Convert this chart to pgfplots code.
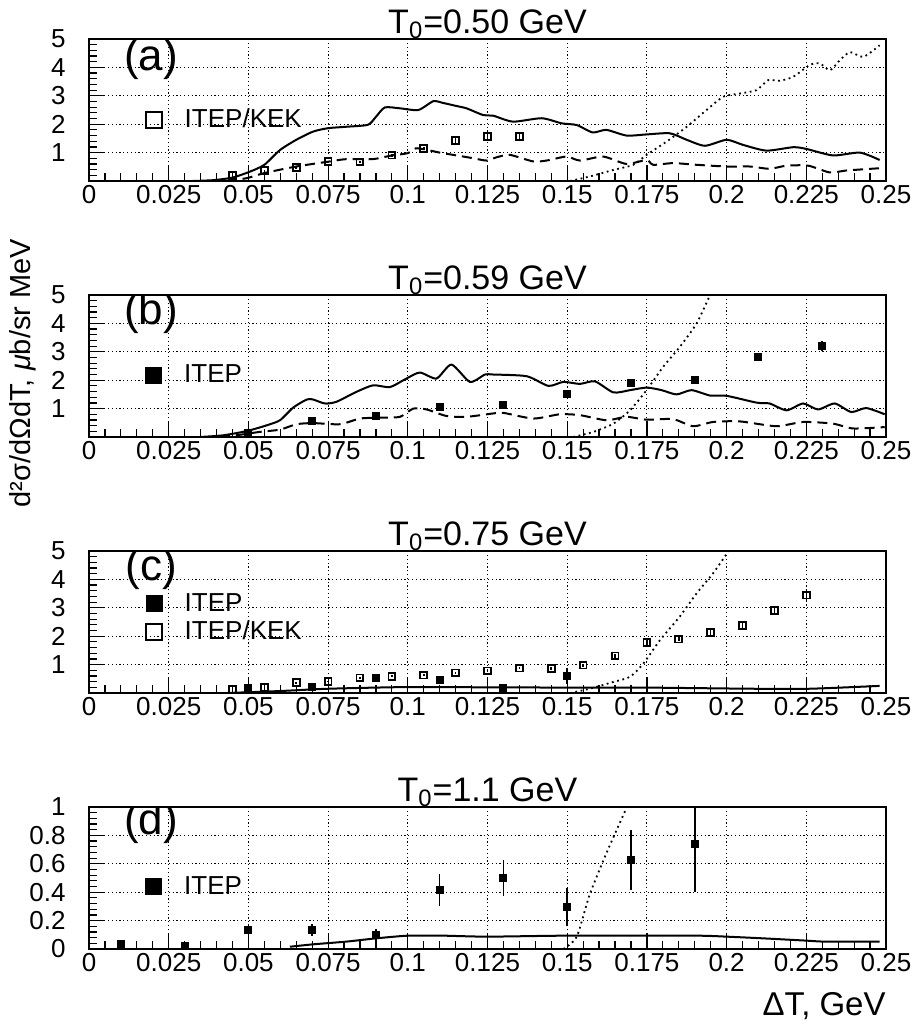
\documentclass[border=0pt]{standalone}
\usepackage{pgfplots}
\pgfplotsset{compat=1.18}
\usepackage{fontspec}
\setmainfont{Liberation Sans}
\tikzset{plabel/.style={font=\fontsize{22}{26}\selectfont, anchor=center}}
\pgfplotsset{
  panel/.style={
    scale only axis, width=398.5pt, height=71pt,
    xmin=0, xmax=0.25,
    xtick={0,0.025,0.05,0.075,0.1,0.125,0.15,0.175,0.2,0.225,0.25},
    xticklabels={0,0.025,0.05,0.075,0.1,0.125,0.15,0.175,0.2,0.225,0.25},
    minor x tick num=4,
    tick align=inside, xtick pos=bottom, ytick pos=left,
    major tick length=8pt, minor tick length=3.8pt,
    xmajorgrids, ymajorgrids,
    major grid style={black, line width=0.5pt, dash pattern=on 0.6pt off 1.3pt},
    axis line style={line width=0.8pt},
    tick style={black, line width=0.6pt},
    ticklabel style={font=\fontsize{13}{15}\selectfont},
    xticklabel style={inner sep=0pt, yshift=-2.2pt},
    yticklabel style={inner sep=0pt, xshift=-11.5pt},
    title style={font=\fontsize{17}{20}\selectfont, at={(0.5,1)}, anchor=base, yshift=-3pt},
    legend style={draw=none, fill=none, inner sep=0pt, font=\fontsize{13}{15}\selectfont,
      nodes={inner sep=0pt}, row sep=3.5pt},
    legend cell align=left,
  },
  top5/.style={ymin=0, ymax=5, ytick={1,2,3,4,5}, yticklabels={1,2,3,4,5},
    minor ytick={0.2,0.4,0.6,0.8,1.2,1.4,1.6,1.8,2.2,2.4,2.6,2.8,3.2,3.4,3.6,3.8,4.2,4.4,4.6,4.8}},
  solidc/.style={black, line width=1pt, no marks, smooth, tension=0.4, forget plot},
  dashedc/.style={black, line width=1pt, no marks, smooth, tension=0.4, dash pattern=on 5pt off 3pt, forget plot},
  dottedc/.style={black, line width=0.9pt, no marks, smooth, tension=0.4, dash pattern=on 0.9pt off 1.8pt, forget plot},
  openmk/.style={black, only marks, mark=square, mark size=1.7pt, line width=0.9pt, forget plot,
    error bars/.cd, y dir=both, y explicit, error mark=none, error bar style={line width=0.8pt, solid}},
  fillmk/.style={black, only marks, mark=square*, mark size=1.6pt, line width=0.8pt, forget plot,
    error bars/.cd, y dir=both, y explicit, error mark=none, error bar style={line width=0.8pt, solid}},
  legopen/.style={legend image code/.code={\draw[line width=0.9pt] (0pt,-4pt) rectangle (8pt,4pt); \path (0pt,0pt) (19pt,0pt);}},
  legfill/.style={legend image code/.code={\fill (0pt,-4pt) rectangle (8pt,4pt); \path (0pt,0pt) (19pt,0pt);}},
}
\begin{document}%
\begin{tikzpicture}
\path[use as bounding box] (0,0) rectangle (457.5pt,-514pt);

% ---------------- (a)
\begin{axis}[panel, top5, at={(44.5pt,-90.5pt)}, anchor=south west,
  title={T\textsubscript{0}=0.50 GeV},
  legend style={at={(axis description cs:0.0703,0.43)}, anchor=west}]
\addlegendimage{legopen}\addlegendentry{ITEP/KEK}
\addplot[solidc] coordinates {(0.0326,0) (0.039,0.03) (0.045,0.12) (0.0505,0.33) (0.055,0.57) (0.0599,1.09) (0.065,1.45) (0.0703,1.74) (0.075,1.86) (0.0807,1.91) (0.0875,1.98) (0.09,2.26) (0.0928,2.59) (0.0975,2.56) (0.1033,2.50) (0.108,2.81) (0.111,2.75) (0.1153,2.64) (0.1184,2.56) (0.1237,2.32) (0.1268,2.30) (0.133,2.09) (0.142,2.21) (0.1483,2.03) (0.153,1.97) (0.158,1.71) (0.1623,1.80) (0.1686,1.60) (0.1749,1.64) (0.1822,1.68) (0.1875,1.45) (0.1932,1.24) (0.2,1.45) (0.2052,1.27) (0.2125,1.07) (0.2209,1.19) (0.225,1.13) (0.2334,0.90) (0.2418,1.0) (0.248,0.74)};
\addplot[dashedc] coordinates {(0.0432,0) (0.0495,0.10) (0.055,0.28) (0.065,0.51) (0.075,0.68) (0.0807,0.77) (0.089,0.77) (0.095,0.90) (0.100,0.98) (0.1025,1.15) (0.105,1.12) (0.110,1.0) (0.1153,0.90) (0.1206,0.80) (0.1247,0.72) (0.128,0.84) (0.132,0.92) (0.1393,0.69) (0.1435,0.72) (0.1498,0.86) (0.154,0.72) (0.1613,0.86) (0.1686,0.60) (0.1749,0.74) (0.177,0.57) (0.1832,0.63) (0.1906,0.57) (0.2,0.51) (0.2073,0.51) (0.2135,0.43) (0.2188,0.54) (0.2256,0.54) (0.2324,0.30) (0.2376,0.37) (0.248,0.45)};
\addplot[dottedc] coordinates {(0.1509,0) (0.1571,0.16) (0.1645,0.39) (0.1707,0.57) (0.1749,0.92) (0.1812,1.39) (0.1875,1.91) (0.1937,2.50) (0.199,2.97) (0.2041,3.08) (0.2094,3.20) (0.213,3.55) (0.2167,3.53) (0.2209,3.67) (0.226,4.08) (0.2292,4.14) (0.2324,3.90) (0.2355,4.25) (0.2387,4.54) (0.2429,4.37) (0.248,4.78)};
\addplot[openmk] coordinates {(0.045,0.19) +- (0,0.03) (0.055,0.36) +- (0,0.03) (0.065,0.47) +- (0,0.04) (0.075,0.68) +- (0,0.04) (0.085,0.67) +- (0,0.04) (0.095,0.91) +- (0,0.05) (0.105,1.14) +- (0,0.06) (0.115,1.42) +- (0,0.13) (0.125,1.56) +- (0,0.16) (0.135,1.56) +- (0,0.16)};
\node[plabel] at (rel axis cs:0.078,0.86) {(a)};
\end{axis}

% ---------------- (b)
\begin{axis}[panel, top5, at={(44.5pt,-218.5pt)}, anchor=south west,
  title={T\textsubscript{0}=0.59 GeV},
  ylabel={d²σ/dΩdT, \textit{μ}b/sr MeV},
  ylabel style={at={(axis description cs:-0.0828,0.45)}, anchor=center, font=\fontsize{14.5}{17}\selectfont},
  legend style={at={(axis description cs:0.0703,0.437)}, anchor=west}]
\addlegendimage{legfill}\addlegendentry{ITEP}
\addplot[solidc] coordinates {(0.0348,0) (0.0421,0.06) (0.0495,0.21) (0.0557,0.41) (0.0599,0.59) (0.0641,1.04) (0.0683,1.32) (0.0703,1.32) (0.074,1.18) (0.0776,1.24) (0.0839,1.59) (0.0891,1.82) (0.0944,1.76) (0.0996,2.06) (0.1038,2.27) (0.109,2.06) (0.1137,2.55) (0.1195,1.94) (0.1242,2.20) (0.1268,2.20) (0.1373,2.14) (0.1441,1.80) (0.1488,1.94) (0.154,1.87) (0.1587,1.96) (0.1645,1.57) (0.1697,1.65) (0.1749,1.74) (0.1796,1.65) (0.1843,1.50) (0.189,1.65) (0.1948,1.46) (0.2,1.45) (0.2094,1.21) (0.2135,1.18) (0.2188,0.94) (0.224,1.18) (0.2287,0.97) (0.2339,1.18) (0.2391,0.88) (0.2438,1.02) (0.2496,0.80)};
\addplot[dashedc] coordinates {(0.0411,0) (0.0474,0.08) (0.0536,0.18) (0.0599,0.26) (0.0651,0.45) (0.0703,0.49) (0.0787,0.45) (0.085,0.65) (0.0912,0.68) (0.0975,0.71) (0.1017,1.0) (0.1059,0.97) (0.1121,0.74) (0.1184,0.71) (0.1268,0.83) (0.13,0.85) (0.1394,0.65) (0.1477,0.80) (0.154,0.77) (0.1623,0.59) (0.1686,0.71) (0.1749,0.61) (0.1832,0.63) (0.1895,0.38) (0.1958,0.53) (0.2041,0.55) (0.2156,0.38) (0.224,0.53) (0.2334,0.47) (0.2397,0.30) (0.2496,0.35)};
\addplot[dottedc] coordinates {(0.1519,0) (0.1582,0.18) (0.1645,0.47) (0.1697,0.94) (0.1749,1.65) (0.1801,2.47) (0.1853,3.17) (0.1906,4.0) (0.1948,5.0)};
\addplot[fillmk] coordinates {(0.05,0.15) +- (0,0.03) (0.07,0.56) +- (0,0.05) (0.09,0.74) +- (0,0.05) (0.11,1.06) +- (0,0.05) (0.13,1.12) +- (0,0.05) (0.15,1.51) +- (0,0.12) (0.17,1.91) +- (0,0.08) (0.19,2.02) +- (0,0.1) (0.21,2.82) +- (0,0.15) (0.23,3.20) +- (0,0.18)};
\node[plabel] at (rel axis cs:0.078,0.875) {(b)};
\end{axis}

% ---------------- (c)
\begin{axis}[panel, top5, at={(44.5pt,-346.5pt)}, anchor=south west,
  title={T\textsubscript{0}=0.75 GeV},
  legend style={at={(axis description cs:0.0703,0.528)}, anchor=west}]
\addlegendimage{legfill}\addlegendentry{ITEP}
\addlegendimage{legopen}\addlegendentry{ITEP/KEK}
\addplot[solidc] coordinates {(0.0432,0) (0.06,0.07) (0.075,0.15) (0.1,0.21) (0.125,0.2) (0.154,0.19) (0.175,0.19) (0.2086,0.15) (0.226,0.15) (0.248,0.25)};
\addplot[dottedc] coordinates {(0.1509,0) (0.157,0.15) (0.1645,0.39) (0.1697,0.57) (0.1739,1.04) (0.1791,1.86) (0.1853,2.69) (0.1906,3.51) (0.1958,4.22) (0.2005,4.98)};
\addplot[openmk] coordinates {(0.045,0.13) +- (0,0.03) (0.055,0.21) +- (0,0.03) (0.065,0.37) +- (0,0.03) (0.075,0.41) +- (0,0.03) (0.085,0.53) +- (0,0.03) (0.095,0.59) +- (0,0.03) (0.105,0.63) +- (0,0.04) (0.115,0.71) +- (0,0.04) (0.125,0.78) +- (0,0.05) (0.135,0.88) +- (0,0.05) (0.145,0.86) +- (0,0.05) (0.155,0.98) +- (0,0.05) (0.165,1.31) +- (0,0.06) (0.175,1.77) +- (0,0.08) (0.185,1.90) +- (0,0.07) (0.195,2.13) +- (0,0.09) (0.205,2.37) +- (0,0.11) (0.215,2.90) +- (0,0.16) (0.225,3.45) +- (0,0.2)};
\addplot[fillmk] coordinates {(0.05,0.18) +- (0,0.03) (0.07,0.21) +- (0,0.03) (0.09,0.54) +- (0,0.03) (0.11,0.45) +- (0,0.04) (0.13,0.19) +- (0,0.04) (0.15,0.60) +- (0,0.27)};
\node[plabel] at (rel axis cs:0.078,0.873) {(c)};
\end{axis}

% ---------------- (d)
\begin{axis}[panel, at={(44.5pt,-474.5pt)}, anchor=south west,
  ymin=0, ymax=1, ytick={0,0.2,0.4,0.6,0.8,1}, yticklabels={0,0.2,0.4,0.6,0.8,1},
  minor y tick num=4,
  title={T\textsubscript{0}=1.1 GeV},
  xlabel={ΔT, GeV},
  xlabel style={at={(axis description cs:1,0)}, anchor=base east, yshift=-33pt, font=\fontsize{16.5}{19}\selectfont, inner sep=0pt},
  legend style={at={(axis description cs:0.0703,0.439)}, anchor=west}]
\addlegendimage{legfill}\addlegendentry{ITEP}
\addplot[solidc] coordinates {(0.063,0.016) (0.0703,0.033) (0.0807,0.052) (0.09,0.075) (0.1001,0.094) (0.111,0.094) (0.125,0.087) (0.1498,0.094) (0.19,0.094) (0.2,0.087) (0.2115,0.075) (0.225,0.059) (0.231,0.052) (0.248,0.052)};
\addplot[dottedc] coordinates {(0.1488,0) (0.153,0.087) (0.157,0.38) (0.1623,0.675) (0.1686,0.993)};
\addplot[fillmk] coordinates {(0.01,0.035) +- (0,0.02) (0.03,0.023) +- (0,0.02) (0.05,0.134) +- (0,0.045) (0.07,0.134) +- (0,0.045) (0.09,0.099) +- (0,0.04) (0.11,0.416) +- (0,0.11) (0.13,0.50) +- (0,0.13) (0.15,0.294) +- (0,0.135) (0.17,0.628) +- (0,0.21) (0.19,0.741) +- (0,0.34)};
\node[plabel] at (rel axis cs:0.078,0.887) {(d)};
\end{axis}
\end{tikzpicture}%
\end{document}
